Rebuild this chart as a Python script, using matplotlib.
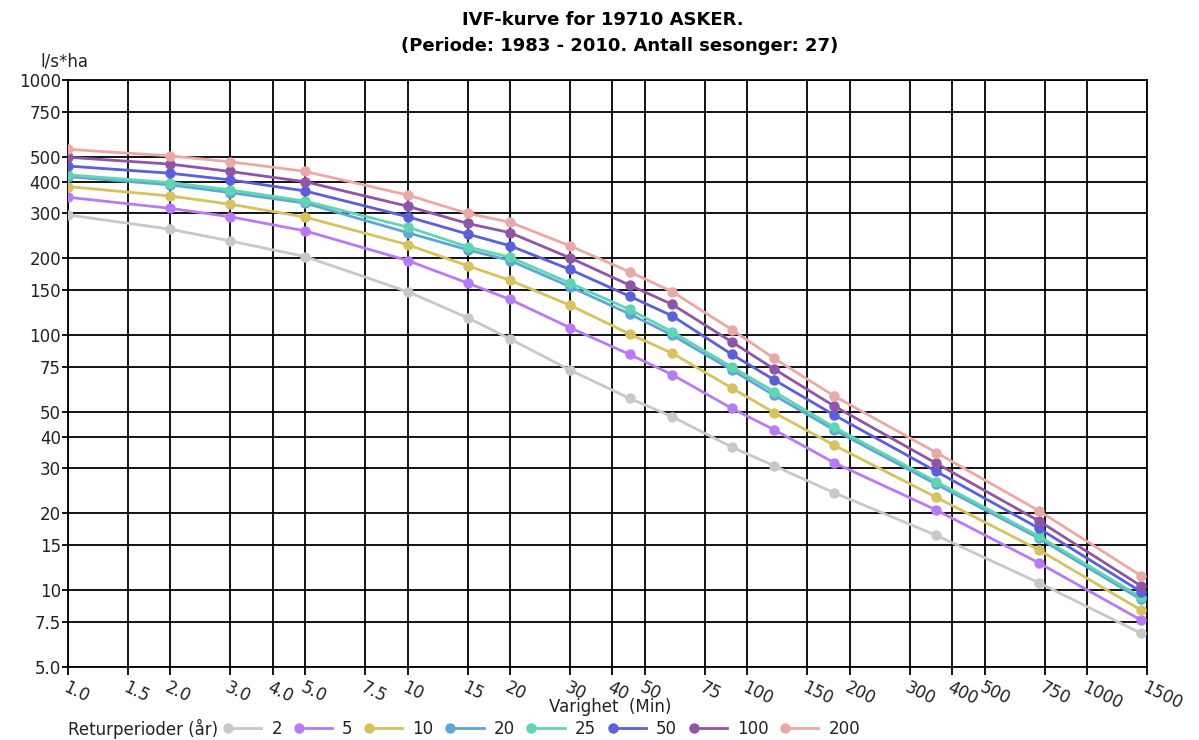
import matplotlib
matplotlib.use("Agg")
import matplotlib.pyplot as plt
from matplotlib.legend_handler import HandlerLine2D
from matplotlib.ticker import FixedLocator, NullLocator

#%% data
varighet = [1, 2, 3, 5, 10, 15, 20, 30, 45, 60, 90, 120, 180, 360, 720, 1440]

ret_perioder = ["2", "5", "10", "20", "25", "50", "100", "200"]
farger = ["#c8c8c8", "#b77cf5", "#d6c25e", "#5ea6d6", "#5fd6b2", "#5b5fdc", "#8f55a6", "#eaa9a6"]

T2 = [296, 260, 234, 203, 148, 117, 96.6, 73, 56.5, 47.9, 36.4, 30.7, 24.1, 16.4, 10.7, 6.78]
T5 = [347, 314, 291, 256, 196, 160, 138, 107, 84, 70, 51.6, 42.5, 31.6, 20.6, 12.8, 7.64]
T10 = [382, 351, 326, 290, 226, 187, 164, 131, 101, 85, 62, 49.6, 37, 23.1, 14.4, 8.36]
T20 = [418, 388, 362, 329, 252, 216, 196, 155, 121, 100, 73, 58, 42.5, 26, 16, 9.2]
T25 = [425, 396, 371, 335, 265, 222, 202, 160, 126, 103, 75, 60, 43.5, 26.6, 16.3, 9.4]
T50 = [460, 431, 406, 367, 291, 249, 224, 181, 142, 119, 84, 66.7, 48.6, 29.2, 17.5, 9.87]
T100 = [498, 468, 438, 399, 320, 274, 252, 201, 157, 132, 94, 73.5, 52.7, 31.4, 18.7, 10.4]
T200 = [535, 504, 478, 438, 354, 300, 277, 224, 177, 148, 105, 81, 57.7, 34.6, 20.5, 11.4]
serier = [T2, T5, T10, T20, T25, T50, T100, T200]

x_ticks = [1, 1.5, 2, 3, 4, 5, 7.5, 10, 15, 20, 30, 40, 50, 75, 100, 150, 200,
           300, 400, 500, 750, 1000, 1500]
x_labels = ["1.0", "1.5", "2.0", "3.0", "4.0", "5.0", "7.5", "10", "15", "20", "30",
            "40", "50", "75", "100", "150", "200", "300", "400", "500", "750", "1000", "1500"]
y_ticks = [5, 7.5, 10, 15, 20, 30, 40, 50, 75, 100, 150, 200, 300, 400, 500, 750, 1000]
y_labels = ["5.0", "7.5", "10", "15", "20", "30", "40", "50", "75", "100", "150", "200",
            "300", "400", "500", "750", "1000"]


# legend handle: marker at the left end of the line
class VenstreMarkor(HandlerLine2D):
    def create_artists(self, legend, orig_handle, xdescent, ydescent, width, height, fontsize, trans):
        arts = super().create_artists(legend, orig_handle, xdescent, ydescent, width, height, fontsize, trans)
        for a in arts:
            if a.get_marker() not in (None, "None", ""):
                a.set_markevery([0])
        return arts


#%% figure
W, H = 1199, 740
fig = plt.figure(figsize=(W / 100, H / 100), dpi=100)
ax = fig.add_axes([68 / W, 1 - 667 / H, (1147 - 68) / W, (667 - 80) / H])

linjer = []
for navn, verdier, farge in zip(ret_perioder, serier, farger):
    ln, = ax.plot(varighet, verdier, color=farge, lw=2.0, marker="o", ms=7.5,
                  markeredgewidth=0, label=navn, zorder=3)
    linjer.append(ln)

ax.set_xscale("log")
ax.set_yscale("log")
ax.set_xlim(1, 1500)
ax.set_ylim(5, 1000)

ax.xaxis.set_major_locator(FixedLocator(x_ticks))
ax.xaxis.set_minor_locator(NullLocator())
ax.yaxis.set_major_locator(FixedLocator(y_ticks))
ax.yaxis.set_minor_locator(NullLocator())
ax.set_xticklabels(x_labels, rotation=-26, ha="left", va="top", rotation_mode="anchor",
                   fontsize=12, color="#222222")
ax.set_yticklabels(y_labels, fontsize=12, color="#222222")
ax.tick_params(axis="x", length=6, width=1.3, pad=2, color="black")
ax.tick_params(axis="y", length=4, width=1.3, pad=1, color="black")

ax.grid(True, color="black", lw=1.3, zorder=1)
ax.set_axisbelow(True)
for s in ax.spines.values():
    s.set_color("black")
    s.set_linewidth(1.3)

# texts
fig.text(603 / W, 1 - 20 / H, "IVF-kurve for 19710 ASKER.", ha="center", va="center",
         fontsize=13, fontweight="bold")
fig.text(620 / W, 1 - 46 / H, "(Periode: 1983 - 2010. Antall sesonger: 27)", ha="center",
         va="center", fontsize=13, fontweight="bold")
fig.text(40 / W, 1 - 61 / H, "l/s*ha", ha="left", va="center", fontsize=12, color="#222222")
fig.text(610 / W, 1 - 707 / H, "Varighet  (Min)", ha="center", va="center", fontsize=12,
         color="#222222")
fig.text(68 / W, 1 - 729 / H, "Returperioder (år)", ha="left", va="center", fontsize=12,
         color="#222222")

leg = fig.legend(handles=linjer, labels=ret_perioder, loc="center left",
                 bbox_to_anchor=(228 / W, 1 - 729 / H), ncol=8, frameon=False,
                 fontsize=12, handlelength=2.0, handletextpad=0.6, columnspacing=1.0,
                 borderaxespad=0, borderpad=0,
                 handler_map={l: VenstreMarkor() for l in linjer})
for t in leg.get_texts():
    t.set_color("#222222")

fig.savefig("out.png", dpi=100)
